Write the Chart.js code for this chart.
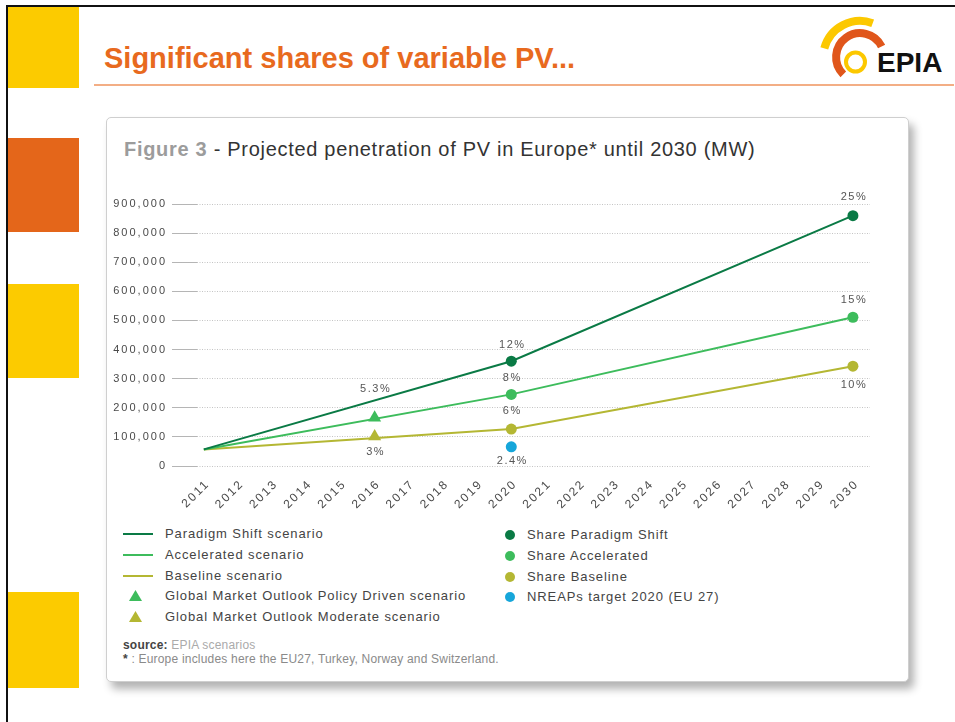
<!DOCTYPE html>
<html>
<head>
<meta charset="utf-8">
<script src="https://cdn.jsdelivr.net/npm/chart.js@4.4.1/dist/chart.umd.min.js"></script>
<style>
  body { margin: 0; width: 955px; height: 722px; position: relative; overflow: hidden; background: #fff;
         font-family: 'Liberation Sans', Arial, sans-serif; }
  .abs { position: absolute; }
  #frame { left: 6px; top: 5px; right: -5px; bottom: -5px; border-top: 2px solid #111; border-left: 2px solid #111; }
  .strip { position: absolute; left: 8px; width: 71px; }
  #title { left: 104px; top: 44px; font-size: 29px; line-height: 29px; font-weight: bold; color: #E86A1E; white-space: nowrap; }
  #rule { left: 94px; top: 84px; width: 860px; height: 2px; background: #F3AE85; }
  #card { left: 106px; top: 117px; width: 801px; height: 563px; border: 1px solid #cfcfcf; border-radius: 5px;
          box-shadow: 5px 7px 9px rgba(0,0,0,0.3); background: #fff; }
  #ctitle { left: 124px; top: 139px; font-size: 20px; line-height: 20px; color: #333; white-space: nowrap; letter-spacing: 0.7px; }
  #ctitle b { color: #9c9c9c; }
  #chartBox { left: 106px; top: 175px; width: 790px; height: 340px; }
  .leg { position: absolute; height: 16px; line-height: 16px; font-size: 13px; color: #444; letter-spacing: 0.9px; white-space: nowrap; }
  .src { position: absolute; left: 123px; font-size: 12px; line-height: 13px; color: #8a8a8a; white-space: nowrap; letter-spacing: 0.2px; }
</style>
</head>
<body>
<div id="frame" class="abs"></div>
<div class="strip" style="top:7px;height:81px;background:#FCCB00;"></div>
<div class="strip" style="top:138px;height:94px;background:#E4661A;"></div>
<div class="strip" style="top:284px;height:94px;background:#FCCB00;"></div>
<div class="strip" style="top:592px;height:96px;background:#FCCB00;"></div>

<div id="title" class="abs">Significant shares of variable PV...</div>
<div id="rule" class="abs"></div>
<svg class="abs" style="left:800px;top:0" width="155" height="100">
  <path d="M 24.3 48.4 A 37 37 0 0 1 72.7 23.2" fill="none" stroke="#FCC800" stroke-width="8"/>
  <path d="M 43.3 74.3 A 24 24 0 1 1 81.6 46.5" fill="none" stroke="#E0561B" stroke-width="8"/>
  <circle cx="55.5" cy="62" r="9.5" fill="#fff" stroke="#FCC800" stroke-width="4"/>
  <text x="77" y="72" font-family="Liberation Sans, Arial" font-weight="bold" font-size="28" fill="#111">EPIA</text>
</svg>

<div id="card" class="abs"></div>
<div id="ctitle" class="abs"><b>Figure 3</b> - Projected penetration of PV in Europe* until 2030 (MW)</div>
<div id="chartBox" class="abs"><canvas id="pvChart"></canvas></div>
<div id="legend"></div>
<div class="src" style="top:639px;"><span style="color:#444;font-weight:bold;">source:</span> <span style="color:#aaa;">EPIA scenarios</span></div>
<div class="src" style="top:653px;"><span style="color:#444;font-weight:bold;">*</span> : Europe includes here the EU27, Turkey, Norway and Switzerland.</div>

<script>
// tick labels on the x axis
const years = [2011, 2012, 2013, 2014, 2015, 2016, 2017, 2018, 2019, 2020,
               2021, 2022, 2023, 2024, 2025, 2026, 2027, 2028, 2029, 2030];

// scenario lines (MW)
const scenarioYears = [2011, 2020, 2030];
const paradigmShift = [57000, 360000, 860000];
const accelerated = [57000, 246000, 511000];
const baseline = [57000, 127000, 343000];

// share of electricity demand (%), shown on the markers
const shareYears = [2020, 2030];
const shareParadigm = [12, 25];
const shareAccelerated = [8, 15];
const shareBaseline = [6, 10];

// Global Market Outlook 2016 points
const gmoYears = [2016];
const gmoPolicy = [166000];
const gmoPolicyShare = [5.3];
const gmoModerate = [101000];
const gmoModerateShare = [3];

// NREAPs target
const nreapYears = [2020];
const nreapTarget = [66000];
const nreapShare = [2.4];

const C_PARADIGM = '#0A7A45';
const C_ACCEL = '#3DBC5C';
const C_BASE = '#B4B733';
const C_NREAP = '#16A6DA';

function pts(xs, ys) {
  return xs.map((x, i) => ({ x: x, y: ys[i] }));
}
// marker values sit on the scenario line
function onLine(series) {
  return shareYears.map(y => series[scenarioYears.indexOf(y)]);
}

// draws the % labels next to the markers
const shareLabels = {
  id: 'shareLabels',
  afterDatasetsDraw(chart) {
    const ctx = chart.ctx;
    ctx.save();
    ctx.font = '11px "Liberation Sans", Arial, sans-serif';
    ctx.letterSpacing = '1.5px';
    ctx.fillStyle = '#555';
    ctx.textAlign = 'center';
    ctx.textBaseline = 'middle';
    chart.data.datasets.forEach((ds, i) => {
      if (!ds.shares) return;
      const meta = chart.getDatasetMeta(i);
      meta.data.forEach((pt, j) => {
        ctx.fillText(ds.shares[j] + '%', pt.x + 1, pt.y + ds.labelOffset[j]);
      });
    });
    ctx.restore();
  }
};

// wider letter spacing for the axis labels (canvas resets it on resize)
const tickSpacing = {
  id: 'tickSpacing',
  beforeLayout(chart) { chart.ctx.letterSpacing = '2px'; },
  beforeDraw(chart) { chart.ctx.letterSpacing = '2px'; }
};

const lineDs = (label, data, color) => ({
  label: label, data: data, borderColor: color, backgroundColor: color,
  borderWidth: 2, pointRadius: 0, tension: 0, legendIcon: 'line', order: 3
});
const markDs = (label, data, color, style, r, shares, offs) => ({
  label: label, data: data, borderColor: color, backgroundColor: color, showLine: false,
  pointStyle: style, pointRadius: r, borderWidth: 0, shares: shares, labelOffset: offs,
  legendIcon: style, order: 1
});

const datasets = [
  lineDs('Paradigm Shift scenario', pts(scenarioYears, paradigmShift), C_PARADIGM),
  lineDs('Accelerated scenario', pts(scenarioYears, accelerated), C_ACCEL),
  lineDs('Baseline scenario', pts(scenarioYears, baseline), C_BASE),
  markDs('Global Market Outlook Policy Driven scenario', pts(gmoYears, gmoPolicy), C_ACCEL, 'triangle', 7.5, gmoPolicyShare, [-29]),
  markDs('Global Market Outlook Moderate scenario', pts(gmoYears, gmoModerate), C_BASE, 'triangle', 7.5, gmoModerateShare, [15]),
  markDs('Share Paradigm Shift', pts(shareYears, onLine(paradigmShift)), C_PARADIGM, 'circle', 5.5, shareParadigm, [-16, -19]),
  markDs('Share Accelerated', pts(shareYears, onLine(accelerated)), C_ACCEL, 'circle', 5.5, shareAccelerated, [-16, -17]),
  markDs('Share Baseline', pts(shareYears, onLine(baseline)), C_BASE, 'circle', 5.5, shareBaseline, [-18, 19]),
  markDs('NREAPs target 2020 (EU 27)', pts(nreapYears, nreapTarget), C_NREAP, 'circle', 5.5, nreapShare, [14])
];

Chart.defaults.font.family = '"Liberation Sans", Arial, sans-serif';
Chart.defaults.color = '#444';

const pvChart = new Chart(document.getElementById('pvChart'), {
  type: 'line',
  data: { datasets: datasets },
  options: {
    responsive: true,
    maintainAspectRatio: false,
    animation: false,
    layout: { padding: { top: 29, right: 26, left: 0, bottom: 0 } },
    plugins: { legend: { display: false }, tooltip: { enabled: false } },
    scales: {
      x: {
        type: 'linear',
        min: 2010.8,
        max: 2030.5,
        afterBuildTicks: axis => { axis.ticks = years.map(v => ({ value: v })); },
        afterFit: axis => { axis.height = 49; },
        grid: { display: false },
        border: { display: false },
        ticks: { autoSkip: false, minRotation: 45, maxRotation: 45, padding: 3, labelOffset: 4,
                 font: { size: 12 }, color: '#4a4a4a', callback: v => String(v) }
      },
      y: {
        min: 0,
        max: 900000,
        afterFit: axis => { axis.width = 91; },
        grid: { color: '#c4c4c4', tickColor: '#b5b5b5', tickLength: 25, tickBorderDash: [] },
        border: { display: false, dash: [1, 1.5] },
        ticks: { stepSize: 100000, padding: 5, font: { size: 11 }, color: '#4a4a4a',
                 callback: v => v.toLocaleString('en-US') }
      }
    }
  },
  plugins: [shareLabels, tickSpacing]
});

// two column legend built from the datasets
const legendCols = [
  { ids: [0, 1, 2, 3, 4], iconX: 123, textX: 165, top: 534 },
  { ids: [5, 6, 7, 8], iconX: 505, textX: 527, top: 535 }
];
const legend = document.getElementById('legend');
legendCols.forEach(col => {
  col.ids.forEach((id, r) => {
    const ds = datasets[id];
    const cy = col.top + r * 20.8;
    let icon;
    if (ds.legendIcon === 'line') {
      icon = `<div class="abs" style="left:${col.iconX}px;top:${cy - 1}px;width:30px;height:2px;background:${ds.borderColor}"></div>`;
    } else if (ds.legendIcon === 'triangle') {
      icon = `<svg class="abs" style="left:${col.iconX + 6}px;top:${cy - 6}px" width="13" height="12"><polygon points="6.5,0 13,11 0,11" fill="${ds.backgroundColor}"/></svg>`;
    } else {
      icon = `<div class="abs" style="left:${col.iconX}px;top:${cy - 5}px;width:10px;height:10px;border-radius:50%;background:${ds.backgroundColor}"></div>`;
    }
    legend.insertAdjacentHTML('beforeend', icon +
      `<div class="leg" style="left:${col.textX}px;top:${cy - 8}px">${ds.label}</div>`);
  });
});
</script>
</body>
</html>
